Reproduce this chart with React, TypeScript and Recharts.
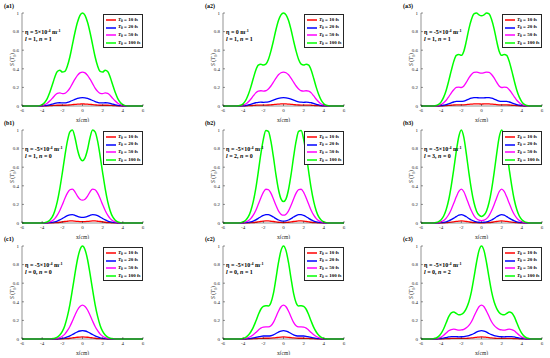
import React from "react";
import { LineChart, Line, XAxis, YAxis, Legend } from "recharts";

// x positions (cm)
const xs = [-6, -5, -4.75, -4.5, -4.25, -4, -3.75, -3.5, -3.25, -3, -2.75, -2.5, -2.25, -2, -1.75, -1.5, -1.25, -1, -0.75, -0.5, -0.25, 0, 0.25, 0.5, 0.75, 1, 1.25, 1.5, 1.75, 2, 2.25, 2.5, 2.75, 3, 3.25, 3.5, 3.75, 4, 4.25, 4.5, 4.75, 5, 6];

const xTicks = [-6, -4, -2, 0, 2, 4, 6];
const yTicks = [0, 0.2, 0.4, 0.6, 0.8, 1];

// (a1)
const a1G = [0, 0, 0, 0, .004, .015, .038, .08, .145, .225, .31, .37, .385, .365, .372, .43, .53, .66, .79, .9, .975, 1, .975, .9, .79, .66, .53, .43, .372, .365, .385, .37, .31, .225, .145, .08, .038, .015, .004, 0, 0, 0, 0];
const a1M = [0, 0, 0, 0, .001, .005, .014, .029, .053, .082, .113, .135, .141, .133, .136, .157, .193, .241, .288, .329, .356, .365, .356, .329, .288, .241, .193, .157, .136, .133, .141, .135, .113, .082, .053, .029, .014, .005, .001, 0, 0, 0, 0];
const a1B = [0, 0, 0, 0, 0, .001, .003, .007, .013, .02, .028, .033, .035, .033, .033, .039, .048, .059, .071, .081, .088, .09, .088, .081, .071, .059, .048, .039, .033, .033, .035, .033, .028, .02, .013, .007, .003, .001, 0, 0, 0, 0, 0];
const a1R = [0, 0, 0, 0, 0, 0, .001, .002, .003, .005, .007, .008, .008, .008, .008, .009, .012, .015, .017, .02, .021, .022, .021, .02, .017, .015, .012, .009, .008, .008, .008, .008, .007, .005, .003, .002, .001, 0, 0, 0, 0, 0, 0];

// (a2)
const a2G = [0, 0, 0, .002, .008, .025, .06, .12, .2, .295, .385, .44, .45, .44, .45, .5, .59, .7, .82, .92, .98, 1, .98, .92, .82, .7, .59, .5, .45, .44, .45, .44, .385, .295, .2, .12, .06, .025, .008, .002, 0, 0, 0];
const a2M = [0, 0, 0, .001, .003, .009, .022, .044, .073, .108, .141, .161, .164, .161, .164, .183, .215, .256, .299, .336, .358, .365, .358, .336, .299, .256, .215, .183, .164, .161, .164, .161, .141, .108, .073, .044, .022, .009, .003, .001, 0, 0, 0];
const a2B = [0, 0, 0, 0, .001, .002, .005, .011, .018, .027, .035, .04, .041, .04, .041, .045, .053, .063, .074, .083, .088, .09, .088, .083, .074, .063, .053, .045, .041, .04, .041, .04, .035, .027, .018, .011, .005, .002, .001, 0, 0, 0, 0];
const a2R = [0, 0, 0, 0, 0, .001, .001, .003, .004, .006, .008, .01, .01, .01, .01, .011, .013, .015, .018, .02, .022, .022, .022, .02, .018, .015, .013, .011, .01, .01, .01, .01, .008, .006, .004, .003, .001, .001, 0, 0, 0, 0, 0];

// (a3)
const a3G = [0, 0, .001, .006, .018, .045, .095, .17, .27, .38, .48, .545, .555, .545, .59, .7, .83, .93, .99, 1, .98, .97, .98, 1, .99, .93, .83, .7, .59, .545, .555, .545, .48, .38, .27, .17, .095, .045, .018, .006, .001, 0, 0];
const a3M = [0, 0, 0, .002, .007, .016, .035, .062, .099, .139, .175, .199, .203, .199, .215, .256, .303, .339, .361, .365, .358, .354, .358, .365, .361, .339, .303, .256, .215, .199, .203, .199, .175, .139, .099, .062, .035, .016, .007, .002, 0, 0, 0];
const a3B = [0, 0, 0, .001, .002, .004, .009, .015, .024, .034, .043, .049, .05, .049, .053, .063, .075, .084, .089, .09, .088, .087, .088, .09, .089, .084, .075, .063, .053, .049, .05, .049, .043, .034, .024, .015, .009, .004, .002, .001, 0, 0, 0];
const a3R = [0, 0, 0, 0, 0, .001, .002, .004, .006, .008, .011, .012, .012, .012, .013, .015, .018, .02, .022, .022, .022, .021, .022, .022, .022, .02, .018, .015, .013, .012, .012, .012, .011, .008, .006, .004, .002, .001, 0, 0, 0, 0, 0];

// (b1)
const b1G = [0, 0, 0, 0, 0, .001, .004, .012, .03, .065, .13, .23, .37, .54, .72, .88, .98, 1, .92, .79, .7, .67, .7, .79, .92, 1, .98, .88, .72, .54, .37, .23, .13, .065, .03, .012, .004, .001, 0, 0, 0, 0, 0];
const b1M = [0, 0, 0, 0, 0, 0, .001, .004, .011, .024, .047, .084, .135, .197, .263, .321, .358, .365, .336, .288, .256, .245, .256, .288, .336, .365, .358, .321, .263, .197, .135, .084, .047, .024, .011, .004, .001, 0, 0, 0, 0, 0, 0];
const b1B = [0, 0, 0, 0, 0, 0, 0, .001, .003, .006, .012, .021, .033, .049, .065, .079, .088, .09, .083, .071, .063, .06, .063, .071, .083, .09, .088, .079, .065, .049, .033, .021, .012, .006, .003, .001, 0, 0, 0, 0, 0, 0, 0];
const b1R = [0, 0, 0, 0, 0, 0, 0, 0, .001, .001, .003, .005, .008, .012, .016, .019, .022, .022, .02, .017, .015, .015, .015, .017, .02, .022, .022, .019, .016, .012, .008, .005, .003, .001, .001, 0, 0, 0, 0, 0, 0, 0, 0];

// (b2)
const b2G = [0, 0, 0, .001, .004, .012, .03, .065, .13, .23, .37, .55, .74, .9, .995, .985, .88, .71, .52, .36, .26, .23, .26, .36, .52, .71, .88, .985, .995, .9, .74, .55, .37, .23, .13, .065, .03, .012, .004, .001, 0, 0, 0];
const b2M = [0, 0, 0, 0, .001, .004, .011, .024, .047, .084, .135, .201, .27, .329, .363, .36, .321, .259, .19, .131, .095, .084, .095, .131, .19, .259, .321, .36, .363, .329, .27, .201, .135, .084, .047, .024, .011, .004, .001, 0, 0, 0, 0];
const b2B = [0, 0, 0, 0, 0, .001, .003, .006, .012, .021, .033, .05, .067, .081, .09, .089, .079, .064, .047, .032, .023, .021, .023, .032, .047, .064, .079, .089, .09, .081, .067, .05, .033, .021, .012, .006, .003, .001, 0, 0, 0, 0, 0];
const b2R = [0, 0, 0, 0, 0, 0, .001, .001, .003, .005, .008, .012, .016, .02, .022, .022, .019, .016, .011, .008, .006, .005, .006, .008, .011, .016, .019, .022, .022, .02, .016, .012, .008, .005, .003, .001, .001, 0, 0, 0, 0, 0, 0];

// (b3)
const b3G = [0, 0, .001, .005, .015, .035, .075, .145, .25, .4, .58, .77, .93, 1, .92, .74, .54, .36, .22, .13, .085, .07, .085, .13, .22, .36, .54, .74, .92, 1, .93, .77, .58, .4, .25, .145, .075, .035, .015, .005, .001, 0, 0];
const b3M = [0, 0, 0, .002, .005, .013, .027, .053, .091, .146, .212, .281, .339, .365, .336, .27, .197, .131, .08, .047, .031, .026, .031, .047, .08, .131, .197, .27, .336, .365, .339, .281, .212, .146, .091, .053, .027, .013, .005, .002, 0, 0, 0];
const b3B = [0, 0, 0, 0, .001, .003, .007, .013, .023, .036, .052, .069, .084, .09, .083, .067, .049, .032, .02, .012, .008, .006, .008, .012, .02, .032, .049, .067, .083, .09, .084, .069, .052, .036, .023, .013, .007, .003, .001, 0, 0, 0, 0];
const b3R = [0, 0, 0, 0, 0, .001, .002, .003, .006, .009, .013, .017, .02, .022, .02, .016, .012, .008, .005, .003, .002, .002, .002, .003, .005, .008, .012, .016, .02, .022, .02, .017, .013, .009, .006, .003, .002, .001, 0, 0, 0, 0, 0];

// (c1)
const c1G = [0, 0, 0, 0, 0, 0, 0, 0, .001, .004, .009, .02, .042, .081, .146, .243, .37, .53, .7, .855, .96, 1, .96, .855, .7, .53, .37, .243, .146, .081, .042, .02, .009, .004, .001, 0, 0, 0, 0, 0, 0, 0, 0];
const c1M = [0, 0, 0, 0, 0, 0, 0, 0, 0, .001, .003, .007, .015, .03, .053, .089, .135, .193, .256, .312, .35, .365, .35, .312, .256, .193, .135, .089, .053, .03, .015, .007, .003, .001, 0, 0, 0, 0, 0, 0, 0, 0, 0];
const c1B = [0, 0, 0, 0, 0, 0, 0, 0, 0, 0, .001, .002, .004, .007, .013, .022, .033, .048, .063, .077, .086, .09, .086, .077, .063, .048, .033, .022, .013, .007, .004, .002, .001, 0, 0, 0, 0, 0, 0, 0, 0, 0, 0];
const c1R = [0, 0, 0, 0, 0, 0, 0, 0, 0, 0, 0, 0, .001, .002, .003, .005, .008, .012, .015, .019, .021, .022, .021, .019, .015, .012, .008, .005, .003, .002, .001, 0, 0, 0, 0, 0, 0, 0, 0, 0, 0, 0, 0];

// (c2)
const c2G = [0, 0, 0, 0, .002, .007, .018, .04, .075, .125, .19, .26, .32, .35, .358, .355, .39, .49, .65, .82, .95, 1, .95, .82, .65, .49, .39, .355, .358, .35, .32, .26, .19, .125, .075, .04, .018, .007, .002, 0, 0, 0, 0];
const c2M = [0, 0, 0, 0, .001, .003, .007, .015, .027, .046, .069, .095, .117, .128, .131, .13, .142, .179, .237, .299, .347, .365, .347, .299, .237, .179, .142, .13, .131, .128, .117, .095, .069, .046, .027, .015, .007, .003, .001, 0, 0, 0, 0];
const c2B = [0, 0, 0, 0, 0, .001, .002, .004, .007, .011, .017, .023, .029, .032, .032, .032, .035, .044, .059, .074, .086, .09, .086, .074, .059, .044, .035, .032, .032, .032, .029, .023, .017, .011, .007, .004, .002, .001, 0, 0, 0, 0, 0];
const c2R = [0, 0, 0, 0, 0, 0, 0, .001, .002, .003, .004, .006, .007, .008, .008, .008, .009, .011, .014, .018, .021, .022, .021, .018, .014, .011, .009, .008, .008, .008, .007, .006, .004, .003, .002, .001, 0, 0, 0, 0, 0, 0, 0];

// (c3)
const c3G = [0, .001, .004, .011, .028, .06, .11, .175, .24, .28, .29, .275, .26, .265, .285, .33, .4, .51, .66, .82, .95, 1, .95, .82, .66, .51, .4, .33, .285, .265, .26, .275, .29, .28, .24, .175, .11, .06, .028, .011, .004, .001, 0];
const c3M = [0, 0, .001, .004, .01, .022, .04, .064, .088, .102, .106, .1, .095, .097, .104, .12, .146, .186, .241, .299, .347, .365, .347, .299, .241, .186, .146, .12, .104, .097, .095, .1, .106, .102, .088, .064, .04, .022, .01, .004, .001, 0, 0];
const c3B = [0, 0, 0, .001, .003, .005, .01, .016, .022, .025, .026, .025, .023, .024, .026, .03, .036, .046, .059, .074, .086, .09, .086, .074, .059, .046, .036, .03, .026, .024, .023, .025, .026, .025, .022, .016, .01, .005, .003, .001, 0, 0, 0];
const c3R = [0, 0, 0, 0, .001, .001, .002, .004, .005, .006, .006, .006, .006, .006, .006, .007, .009, .011, .015, .018, .021, .022, .021, .018, .015, .011, .009, .007, .006, .006, .006, .006, .006, .006, .005, .004, .002, .001, .001, 0, 0, 0, 0];

const series = [
  { key: "t10", label: "10 fs", color: "#ff0000" },
  { key: "t20", label: "20 fs", color: "#0000ff" },
  { key: "t50", label: "50 fs", color: "#ff00ff" },
  { key: "t100", label: "100 fs", color: "#00ff00" },
];

const panels = [
  { name: "a1", eta: "5", l: 1, n: 1, t10: a1R, t20: a1B, t50: a1M, t100: a1G },
  { name: "a2", eta: "0", l: 1, n: 1, t10: a2R, t20: a2B, t50: a2M, t100: a2G },
  { name: "a3", eta: "-5", l: 1, n: 1, t10: a3R, t20: a3B, t50: a3M, t100: a3G },
  { name: "b1", eta: "-5", l: 1, n: 0, t10: b1R, t20: b1B, t50: b1M, t100: b1G },
  { name: "b2", eta: "-5", l: 2, n: 0, t10: b2R, t20: b2B, t50: b2M, t100: b2G },
  { name: "b3", eta: "-5", l: 3, n: 0, t10: b3R, t20: b3B, t50: b3M, t100: b3G },
  { name: "c1", eta: "-5", l: 0, n: 0, t10: c1R, t20: c1B, t50: c1M, t100: c1G },
  { name: "c2", eta: "-5", l: 0, n: 1, t10: c2R, t20: c2B, t50: c2M, t100: c2G },
  { name: "c3", eta: "-5", l: 0, n: 2, t10: c3R, t20: c3B, t50: c3M, t100: c3G },
];

// layout
const colLeft = [22, 223, 421];
const rowTop = [13, 130, 246];
const plotW = 121;
const plotH = 93;
const padL = 22;
const padT = 13;
const padR = 5;
const axisH = 16;
const W = padL + plotW + padR;
const H = padT + plotH + axisH;
const ink = "#262626";

const YLabel = (props: any) => {
  const vb = props.viewBox || {};
  const cx = vb.x + 12;
  const cy = vb.y + vb.height / 2;
  return (
    <text
      x={cx}
      y={cy}
      transform={`rotate(-90 ${cx} ${cy})`}
      textAnchor="middle"
      dominantBaseline="central"
      fontSize={5.5}
      fill={ink}
    >
      <tspan fontStyle="italic">S</tspan> (<tspan fontStyle="italic">T</tspan>
      <tspan fontSize={4} dy={1.5}>0</tspan>
      <tspan dy={-1.5}>)</tspan>
    </text>
  );
};

const LegendBox = () => (
  <div
    style={{
      width: 40,
      height: 34,
      border: `0.6px solid ${ink}`,
      background: "#fff",
      boxSizing: "border-box",
      paddingTop: 1,
    }}
  >
    {series.map((s) => (
      <div key={s.key} style={{ display: "flex", alignItems: "center", height: 7.8 }}>
        <svg width={10} height={4} style={{ margin: "0 2px 0 2px", display: "block" }}>
          <line x1={0} y1={2} x2={10} y2={2} stroke={s.color} strokeWidth={1.5} />
        </svg>
        <span style={{ fontSize: 5, fontWeight: "bold", lineHeight: 1, whiteSpace: "nowrap", color: "#000" }}>
          <i>T</i>
          <sub style={{ fontSize: 3.5, verticalAlign: "-1px" }}>0</sub> = {s.label}
        </span>
      </div>
    ))}
  </div>
);

function Panel({ p, idx }: { p: any; idx: number }) {
  const col = idx % 3;
  const row = Math.floor(idx / 3);
  const left = colLeft[col] - padL;
  const top = rowTop[row] - padT;
  const data = xs.map((x, i) => ({ x, t10: p.t10[i], t20: p.t20[i], t50: p.t50[i], t100: p.t100[i] }));
  const tickStyle = { fontSize: 5, fill: ink };

  return (
    <div style={{ position: "absolute", left, top, width: W, height: H }}>
      <LineChart width={W} height={H} data={data} margin={{ top: padT, right: padR, left: 0, bottom: 0 }}>
        <XAxis
          dataKey="x"
          type="number"
          domain={[-6, 6]}
          ticks={xTicks}
          height={axisH}
          tick={tickStyle}
          tickSize={-2}
          tickMargin={4}
          stroke={ink}
          strokeWidth={0.5}
          label={{ value: "x(cm)", position: "insideBottom", offset: 0, fontSize: 5.5, fill: ink }}
        />
        <XAxis
          xAxisId="top"
          orientation="top"
          dataKey="x"
          type="number"
          domain={[-6, 6]}
          ticks={xTicks}
          height={0}
          tick={false}
          tickSize={-2}
          stroke={ink}
          strokeWidth={0.5}
        />
        <YAxis
          type="number"
          domain={[0, 1]}
          ticks={yTicks}
          width={padL}
          tick={tickStyle}
          tickSize={-2}
          tickMargin={5}
          stroke={ink}
          strokeWidth={0.5}
          label={<YLabel />}
        />
        <YAxis
          yAxisId="right"
          orientation="right"
          type="number"
          domain={[0, 1]}
          ticks={yTicks}
          width={0}
          tick={false}
          tickSize={-2}
          stroke={ink}
          strokeWidth={0.5}
        />
        {series.map((s) => (
          <Line
            key={s.key}
            type="monotone"
            dataKey={s.key}
            stroke={s.color}
            strokeWidth={s.key === "t100" ? 1.5 : 1.3}
            dot={false}
            isAnimationActive={false}
          />
        ))}
        <Legend
          layout="vertical"
          align="center"
          verticalAlign="middle"
          content={() => <LegendBox />}
          wrapperStyle={{ left: padL + plotW - 40, top: padT + 1, width: 40 }}
        />
      </LineChart>
      <div style={{ position: "absolute", left: 4, top: padT - 10, fontSize: 6, fontWeight: "bold", color: "#000" }}>
        ({p.name})
      </div>
      <div
        style={{
          position: "absolute",
          left: padL + 3,
          top: padT + 14,
          fontSize: 6,
          lineHeight: "7px",
          fontWeight: "bold",
          color: "#000",
          whiteSpace: "nowrap",
        }}
      >
        <div>
          η = {p.eta === "0" ? "0" : p.eta + "×10"}
          {p.eta !== "0" && <sup style={{ fontSize: 4, verticalAlign: "2px" }}>-4</sup>} m
          <sup style={{ fontSize: 4, verticalAlign: "2px" }}>-1</sup>
        </div>
        <div>
          <i>l</i> = {p.l}, <i>n</i> = {p.n}
        </div>
      </div>
    </div>
  );
}

export default function App() {
  return (
    <div
      style={{
        position: "absolute",
        left: 0,
        top: 0,
        width: 550,
        height: 358,
        background: "#fff",
        fontFamily: "'Liberation Serif', 'DejaVu Serif', serif",
        overflow: "hidden",
      }}
    >
      {panels.map((p, i) => (
        <Panel key={p.name} p={p} idx={i} />
      ))}
    </div>
  );
}
